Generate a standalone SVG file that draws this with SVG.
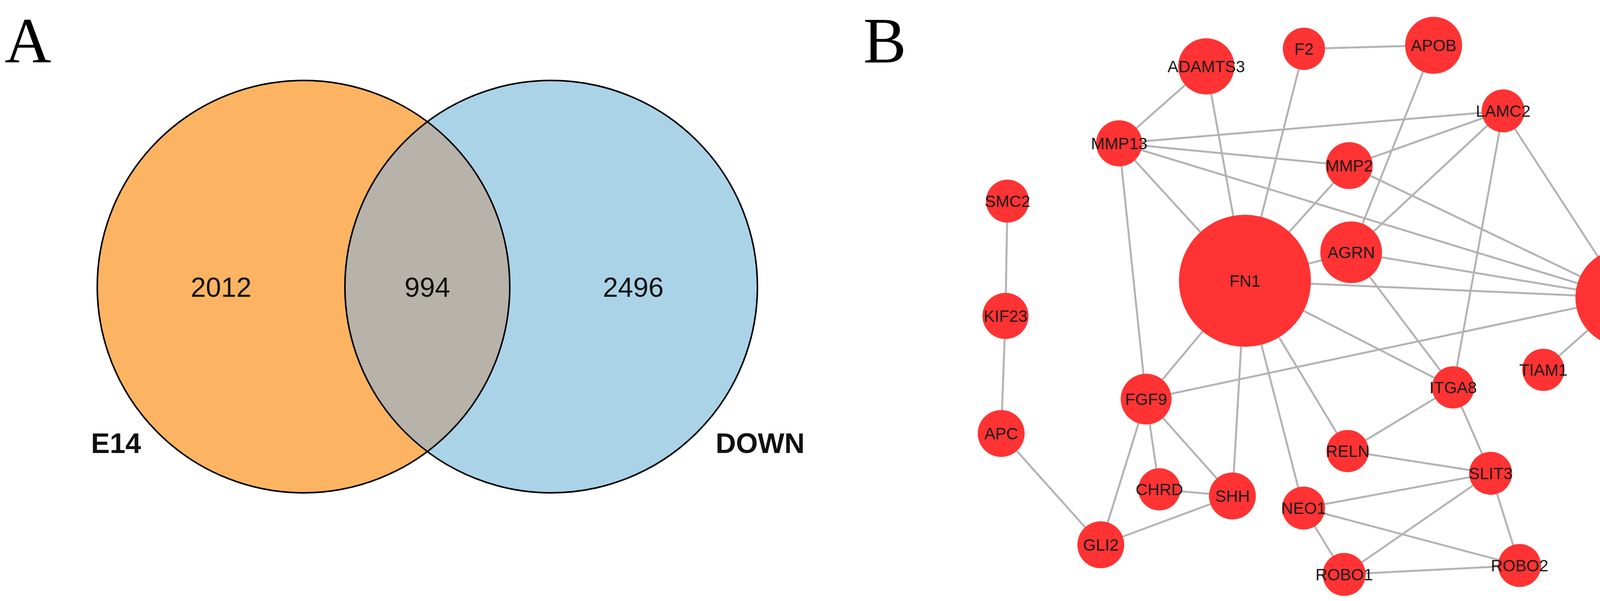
<svg xmlns="http://www.w3.org/2000/svg" width="4304" height="1539" viewBox="0 0 4304 1539">
<style>
.lbl{font-family:"Liberation Serif",serif;font-size:165px;fill:#000}
.num{font-family:"Liberation Sans",Arial,sans-serif;font-size:70px;fill:#111;text-anchor:middle}
.set{font-family:"Liberation Sans",Arial,sans-serif;font-size:72px;font-weight:bold;fill:#111;text-anchor:middle}
.n circle{fill:#ff3333}
.n text{font-family:"Liberation Sans",Arial,sans-serif;font-size:42px;fill:#1a1a1a;text-anchor:middle;dominant-baseline:central}
#edges line{stroke:#b3b3b3;stroke-width:5}
</style>
<rect width="4304" height="1539" fill="#fff"/>
<text class="lbl" x="12" y="160">A</text>
<text class="lbl" x="2210" y="160">B</text>
<g id="venn">
<clipPath id="cl"><circle cx="777" cy="734" r="528"/></clipPath>
<circle cx="777" cy="734" r="528" fill="#fdb462"/>
<circle cx="1411" cy="734" r="528" fill="#abd3e8"/>
<circle cx="1411" cy="734" r="528" fill="#b8b3aa" clip-path="url(#cl)"/>
<circle cx="777" cy="734" r="528" fill="none" stroke="#000" stroke-width="4"/>
<circle cx="1411" cy="734" r="528" fill="none" stroke="#000" stroke-width="4"/>
<text class="num" x="566" y="760">2012</text>
<text class="num" x="1094" y="760">994</text>
<text class="num" x="1621" y="760">2496</text>
<text class="set" x="297" y="1160">E14</text>
<text class="set" x="1946" y="1160">DOWN</text>
</g>
<g id="edges">
<line x1="3088" y1="170" x2="2865" y2="367"/>
<line x1="3088" y1="170" x2="3187" y2="719"/>
<line x1="3338" y1="125" x2="3670" y2="116"/>
<line x1="3338" y1="125" x2="3187" y2="719"/>
<line x1="3670" y1="116" x2="3459" y2="646"/>
<line x1="3848" y1="284" x2="2865" y2="367"/>
<line x1="3848" y1="284" x2="3454" y2="424"/>
<line x1="3848" y1="284" x2="3459" y2="646"/>
<line x1="3848" y1="284" x2="3720" y2="992"/>
<line x1="3848" y1="284" x2="4159" y2="762"/>
<line x1="2865" y1="367" x2="3454" y2="424"/>
<line x1="2865" y1="367" x2="4159" y2="762"/>
<line x1="2865" y1="367" x2="3187" y2="719"/>
<line x1="2865" y1="367" x2="2934" y2="1022"/>
<line x1="3454" y1="424" x2="3187" y2="719"/>
<line x1="3454" y1="424" x2="4159" y2="762"/>
<line x1="3459" y1="646" x2="3187" y2="719"/>
<line x1="3459" y1="646" x2="4159" y2="762"/>
<line x1="3459" y1="646" x2="3720" y2="992"/>
<line x1="3187" y1="719" x2="4159" y2="762"/>
<line x1="3187" y1="719" x2="3720" y2="992"/>
<line x1="3187" y1="719" x2="2934" y2="1022"/>
<line x1="3187" y1="719" x2="3155" y2="1270"/>
<line x1="3187" y1="719" x2="3337" y2="1301"/>
<line x1="3187" y1="719" x2="3450" y2="1155"/>
<line x1="4159" y1="762" x2="3951" y2="947"/>
<line x1="4159" y1="762" x2="2934" y2="1022"/>
<line x1="2579" y1="515" x2="2574" y2="809"/>
<line x1="2574" y1="809" x2="2563" y2="1110"/>
<line x1="2563" y1="1110" x2="2818" y2="1395"/>
<line x1="2934" y1="1022" x2="2818" y2="1395"/>
<line x1="2934" y1="1022" x2="2968" y2="1253"/>
<line x1="2934" y1="1022" x2="3155" y2="1270"/>
<line x1="2968" y1="1253" x2="3155" y2="1270"/>
<line x1="3155" y1="1270" x2="2818" y2="1395"/>
<line x1="3720" y1="992" x2="3450" y2="1155"/>
<line x1="3720" y1="992" x2="3816" y2="1212"/>
<line x1="3450" y1="1155" x2="3816" y2="1212"/>
<line x1="3816" y1="1212" x2="3337" y2="1301"/>
<line x1="3816" y1="1212" x2="3441" y2="1471"/>
<line x1="3816" y1="1212" x2="3890" y2="1448"/>
<line x1="3337" y1="1301" x2="3441" y2="1471"/>
<line x1="3337" y1="1301" x2="3890" y2="1448"/>
<line x1="3441" y1="1471" x2="3890" y2="1448"/>
</g>
<g id="ADAMTS3" class="n"><circle cx="3088" cy="170" r="72"/><text x="3088" y="170">ADAMTS3</text></g>
<g id="F2" class="n"><circle cx="3338" cy="125" r="54"/><text x="3338" y="125">F2</text></g>
<g id="APOB" class="n"><circle cx="3670" cy="116" r="73"/><text x="3670" y="116">APOB</text></g>
<g id="LAMC2" class="n"><circle cx="3848" cy="284" r="55"/><text x="3848" y="284">LAMC2</text></g>
<g id="MMP13" class="n"><circle cx="2865" cy="367" r="59"/><text x="2865" y="367">MMP13</text></g>
<g id="MMP2" class="n"><circle cx="3454" cy="424" r="60"/><text x="3454" y="424">MMP2</text></g>
<g id="SMC2" class="n"><circle cx="2579" cy="515" r="55"/><text x="2579" y="515">SMC2</text></g>
<g id="AGRN" class="n"><circle cx="3459" cy="646" r="79"/><text x="3459" y="646">AGRN</text></g>
<g id="FN1" class="n"><circle cx="3187" cy="719" r="169"/><text x="3187" y="719">FN1</text></g>
<g id="CD44" class="n"><circle cx="4159" cy="762" r="126"/><text x="4159" y="762">CD44</text></g>
<g id="KIF23" class="n"><circle cx="2574" cy="809" r="59"/><text x="2574" y="809">KIF23</text></g>
<g id="TIAM1" class="n"><circle cx="3951" cy="947" r="54"/><text x="3951" y="947">TIAM1</text></g>
<g id="FGF9" class="n"><circle cx="2934" cy="1022" r="65"/><text x="2934" y="1022">FGF9</text></g>
<g id="ITGA8" class="n"><circle cx="3720" cy="992" r="54"/><text x="3720" y="992">ITGA8</text></g>
<g id="APC" class="n"><circle cx="2563" cy="1110" r="60"/><text x="2563" y="1110">APC</text></g>
<g id="RELN" class="n"><circle cx="3450" cy="1155" r="54"/><text x="3450" y="1155">RELN</text></g>
<g id="SLIT3" class="n"><circle cx="3816" cy="1212" r="55"/><text x="3816" y="1212">SLIT3</text></g>
<g id="CHRD" class="n"><circle cx="2968" cy="1253" r="54"/><text x="2968" y="1253">CHRD</text></g>
<g id="SHH" class="n"><circle cx="3155" cy="1270" r="60"/><text x="3155" y="1270">SHH</text></g>
<g id="NEO1" class="n"><circle cx="3337" cy="1301" r="55"/><text x="3337" y="1301">NEO1</text></g>
<g id="GLI2" class="n"><circle cx="2818" cy="1395" r="60"/><text x="2818" y="1395">GLI2</text></g>
<g id="ROBO1" class="n"><circle cx="3441" cy="1471" r="55"/><text x="3441" y="1471">ROBO1</text></g>
<g id="ROBO2" class="n"><circle cx="3890" cy="1448" r="55"/><text x="3890" y="1448">ROBO2</text></g>
</svg>
